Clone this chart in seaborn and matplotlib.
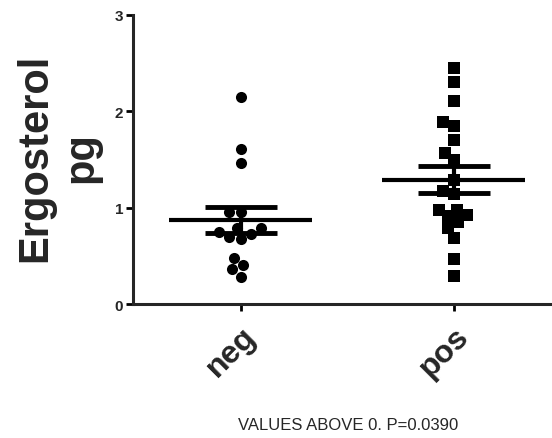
import numpy as np
import pandas as pd
import matplotlib
matplotlib.use("Agg")
import matplotlib.pyplot as plt
import seaborn as sns

# Dane
grupy = ['neg', 'pos']
neg = [2.15, 1.61, 1.46, 0.95, 0.95, 0.79, 0.79, 0.75, 0.73, 0.70, 0.68,
       0.48, 0.41, 0.36, 0.28]
pos = [2.45, 2.30, 2.11, 1.89, 1.85, 1.70, 1.57, 1.49, 1.29, 1.17, 1.14,
       0.98, 0.98, 0.92, 0.91, 0.85, 0.79, 0.69, 0.47, 0.29]
y_ticks = [0, 1, 2, 3]
podpis_x = "VALUES ABOVE 0. P=0.0390"
podpis_y = "Ergosterol\npg"

df = pd.DataFrame({
    'grupa': ['neg'] * len(neg) + ['pos'] * len(pos),
    'wartosc': neg + pos,
})

sns.set_style("ticks")
plt.rcParams['font.family'] = ['Liberation Sans', 'DejaVu Sans']

fig = plt.figure(figsize=(5.52, 4.39), dpi=100)
ax = fig.add_axes([0.241, 0.305, 0.755, 0.659])

znaczniki = {'neg': 'o', 'pos': 's'}
for g in grupy:
    sns.swarmplot(data=df[df['grupa'] == g], x='grupa', y='wartosc',
                  order=grupy, marker=znaczniki[g], color='black',
                  size=8, linewidth=0, ax=ax)

# srednia +/- SEM
for i, g in enumerate(grupy):
    v = df.loc[df['grupa'] == g, 'wartosc'].to_numpy()
    srednia = v.mean()
    sem = v.std(ddof=1) / np.sqrt(len(v))
    ax.hlines(srednia, i - 0.335, i + 0.335, color='black', lw=3, zorder=5)
    ax.errorbar(i, srednia, yerr=sem, color='black', lw=3, capsize=26,
                capthick=3.5, zorder=5)

ax.set_xlim(-0.505, 1.45)
ax.set_ylim(0, 3)
ax.set_yticks(y_ticks)
ax.set_yticklabels([str(t) for t in y_ticks], fontsize=11, fontweight='bold')
ax.set_xticks(range(len(grupy)))
ax.set_xticklabels(grupy, rotation=45, ha='right', rotation_mode='anchor',
                   fontsize=23, fontweight='bold')

for s in ['top', 'right']:
    ax.spines[s].set_visible(False)
for s in ['left', 'bottom']:
    ax.spines[s].set_linewidth(2.2)
ax.tick_params(axis='both', width=2, length=5, color='black', pad=2)
ax.tick_params(axis='x', pad=7)

ax.set_ylabel(podpis_y, fontsize=30, fontweight='bold', va='center',
              linespacing=1.2)
ax.yaxis.set_label_coords(-0.18, 0.51)
ax.set_xlabel(podpis_x, fontsize=12)
ax.xaxis.set_label_coords(0.515, -0.39)

fig.savefig("out.png", dpi=100)
